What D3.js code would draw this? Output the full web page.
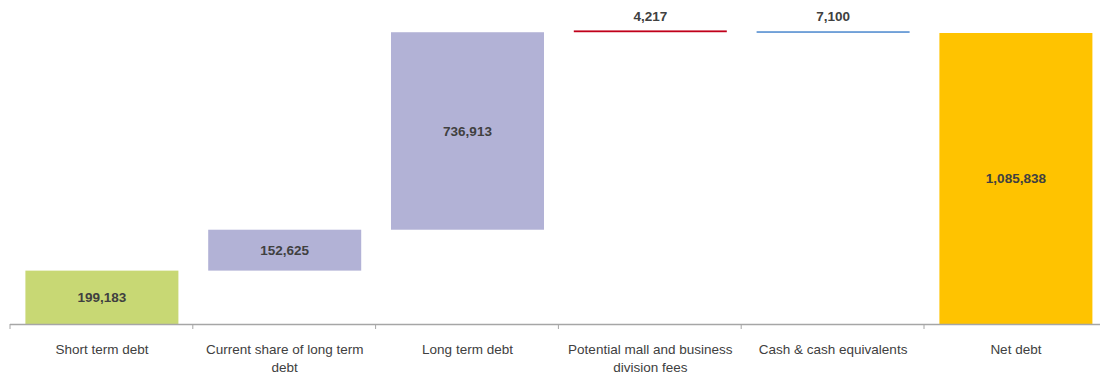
<!DOCTYPE html>
<html>
<head>
<meta charset="utf-8">
<script src="https://cdn.jsdelivr.net/npm/d3@7"></script>
<style>
  body { margin: 0; background: #fff; }
  text { font-family: "Liberation Sans", Arial, sans-serif; }
</style>
</head>
<body>
<div id="chart"></div>
<script>
const categories = ["Short term debt", "Current share of long term debt", "Long term debt",
  "Potential mall and business division fees", "Cash & cash equivalents", "Net debt"];
const values = [199183, 152625, 736913, 4217, -7100, 1085838];
const kinds = ["step", "step", "step", "step", "step", "total"];
const colors = ["#c8d874", "#b2b2d6", "#b2b2d6", "#c0001a", "#70a0d8", "#ffc300"];

const width = 1100, height = 376;
const baseY = 324;

const svg = d3.select("#chart").append("svg")
  .attr("width", width)
  .attr("height", height);

// running totals for the waterfall
let run = 0;
const bars = categories.map((c, i) => {
  let start, end;
  if (kinds[i] === "total") { start = 0; end = values[i]; run = values[i]; }
  else { start = run; end = run + values[i]; run = end; }
  return { cat: c, value: values[i], lo: Math.min(start, end), hi: Math.max(start, end), color: colors[i] };
});

const x = d3.scaleBand()
  .domain(categories)
  .range([10, 10 + 6 * 182.8])
  .paddingInner(0.163)
  .paddingOuter(0.0815);

const y = d3.scaleLinear()
  .domain([0, values[5]])
  .range([baseY, 33]);

svg.selectAll("rect.bar")
  .data(bars)
  .enter()
  .append("rect")
  .attr("class", "bar")
  .attr("x", d => x(d.cat) + 0.5)
  .attr("width", x.bandwidth())
  .attr("y", d => Math.min(y(d.hi), y(d.lo) - 1.8))
  .attr("height", d => Math.max(y(d.lo) - y(d.hi), 1.8))
  .attr("fill", d => d.color);

// value labels
svg.selectAll("text.val")
  .data(bars)
  .enter()
  .append("text")
  .attr("class", "val")
  .attr("x", d => x(d.cat) + x.bandwidth() / 2 + 0.5)
  .attr("y", d => {
    const h = y(d.lo) - y(d.hi);
    return h > 20 ? (y(d.lo) + y(d.hi)) / 2 : y(d.hi) - 15;
  })
  .attr("dy", "0.35em")
  .attr("text-anchor", "middle")
  .style("font-size", "13.5px")
  .style("font-weight", "bold")
  .style("fill", "#404040")
  .text(d => d3.format(",")(Math.abs(d.value)));

// axis line and boundary ticks
svg.append("line")
  .attr("x1", 10).attr("x2", width)
  .attr("y1", baseY + 0.5).attr("y2", baseY + 0.5)
  .attr("stroke", "#a6a6a6")
  .attr("stroke-width", 1.5);

const step = x.step();
svg.selectAll("line.tick")
  .data(d3.range(categories.length + 1))
  .enter()
  .append("line")
  .attr("class", "tick")
  .attr("x1", i => 10 + i * step).attr("x2", i => 10 + i * step)
  .attr("y1", baseY).attr("y2", baseY + 5)
  .attr("stroke", "#a6a6a6")
  .attr("stroke-width", 1);

// category labels, wrapped
svg.selectAll("text.cat")
  .data(categories)
  .enter()
  .append("text")
  .attr("class", "cat")
  .attr("x", d => x(d) + x.bandwidth() / 2 + 0.5)
  .attr("y", 354)
  .attr("text-anchor", "middle")
  .style("font-size", "13.5px")
  .style("fill", "#404040")
  .each(function (d) {
    const t = d3.select(this);
    const words = d.split(" ");
    let line = [];
    let tspan = t.append("tspan").attr("x", t.attr("x")).attr("dy", 0);
    words.forEach(w => {
      line.push(w);
      tspan.text(line.join(" "));
      if (tspan.node().getComputedTextLength() > 174 && line.length > 1) {
        line.pop();
        tspan.text(line.join(" "));
        line = [w];
        tspan = t.append("tspan").attr("x", t.attr("x")).attr("dy", "1.3em").text(w);
      }
    });
  });
</script>
</body>
</html>
